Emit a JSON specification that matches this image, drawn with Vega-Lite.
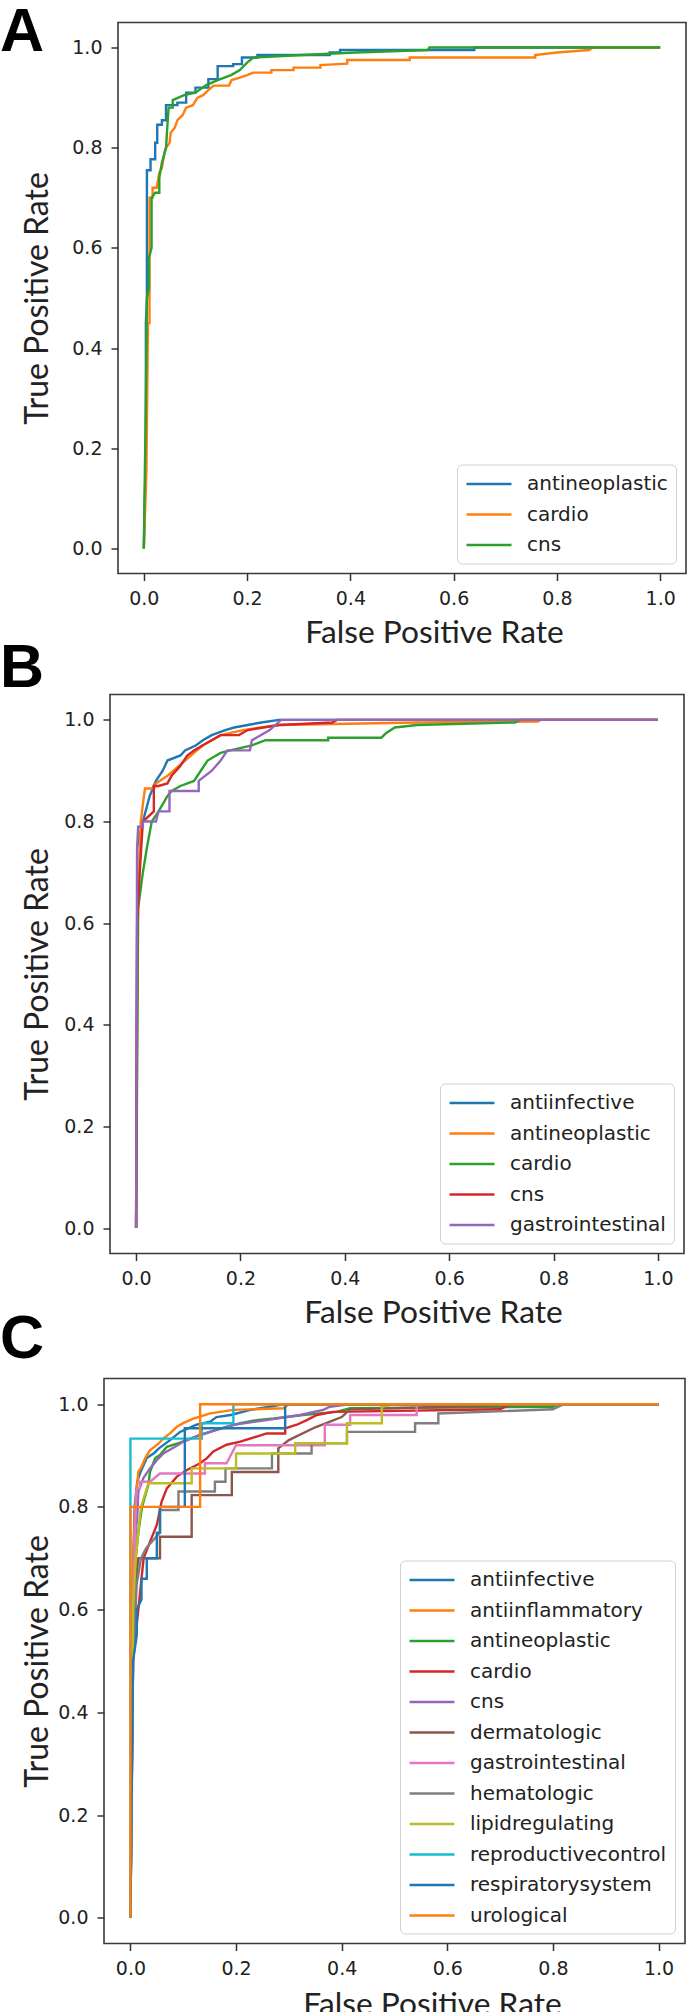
{
"$schema": "https://vega.github.io/schema/vega-lite/v6.json",
"background": "white",
"padding": {"left": 0, "top": 1.5, "right": 0, "bottom": 0},
"spacing": -22,
"resolve": {"scale": {"color": "independent", "x": "independent", "y": "independent"}, "legend": {"color": "independent"}},
"config": {
  "view": {"stroke": "#3a3a3a", "strokeWidth": 1.6},
  "axis": {"grid": false, "domain": false, "tickSize": 7, "tickWidth": 1.5, "tickColor": "#333333", "labelFont": "DejaVu Sans", "labelFontSize": 19, "labelColor": "#222222", "labelPadding": 9, "titleFont": "Lato", "titleFontWeight": "normal", "titleColor": "#222222", "titleFontSize": 31.7},
  "axisY": {"titleFontSize": 32},
  "legend": {"orient": "bottom-right", "offset": 10, "title": null, "symbolType": "M-1,0H3.5", "symbolSize": 400, "symbolStrokeWidth": 2.5, "labelFont": "DejaVu Sans", "labelFontSize": 20, "labelColor": "#222222", "labelLimit": 400, "fillColor": "white", "strokeColor": "#d0d0d0", "cornerRadius": 5, "padding": 8, "rowPadding": 8.5, "labelOffset": 39},
  "title": {"anchor": "start", "frame": "group", "font": "Liberation Sans", "fontSize": 61, "fontWeight": "bold", "color": "#000000", "baseline": "alphabetic"},
  "line": {"strokeWidth": 2.4}
},
"vconcat": [
{
  "title": {"text": "A", "offset": -42},
  "spacing": 0,
  "resolve": {"scale": {"color": "independent", "x": "independent", "y": "independent"}, "legend": {"color": "independent"}},
  "hconcat": [
    {"width": 20, "height": 637, "view": {"stroke": null}, "data": {"values": []}, "mark": "point", "encoding": {}},
    {
      "width": 568, "height": 551,
      "data": {"values": [
{"series":"antineoplastic","fpr":0,"tpr":0},{"series":"antineoplastic","fpr":0.004,"tpr":0.2},{"series":"antineoplastic","fpr":0.004,"tpr":0.45},{"series":"antineoplastic","fpr":0.006,"tpr":0.5},{"series":"antineoplastic","fpr":0.006,"tpr":0.755},{"series":"antineoplastic","fpr":0.013,"tpr":0.755},{"series":"antineoplastic","fpr":0.013,"tpr":0.777},{"series":"antineoplastic","fpr":0.022,"tpr":0.777},{"series":"antineoplastic","fpr":0.022,"tpr":0.81},{"series":"antineoplastic","fpr":0.026,"tpr":0.81},{"series":"antineoplastic","fpr":0.026,"tpr":0.846},{"series":"antineoplastic","fpr":0.035,"tpr":0.846},{"series":"antineoplastic","fpr":0.035,"tpr":0.855},{"series":"antineoplastic","fpr":0.043,"tpr":0.855},{"series":"antineoplastic","fpr":0.043,"tpr":0.885},{"series":"antineoplastic","fpr":0.065,"tpr":0.885},{"series":"antineoplastic","fpr":0.065,"tpr":0.89},{"series":"antineoplastic","fpr":0.082,"tpr":0.89},{"series":"antineoplastic","fpr":0.082,"tpr":0.91},{"series":"antineoplastic","fpr":0.1,"tpr":0.91},{"series":"antineoplastic","fpr":0.1,"tpr":0.92},{"series":"antineoplastic","fpr":0.125,"tpr":0.92},{"series":"antineoplastic","fpr":0.125,"tpr":0.937},{"series":"antineoplastic","fpr":0.143,"tpr":0.937},{"series":"antineoplastic","fpr":0.143,"tpr":0.963},{"series":"antineoplastic","fpr":0.173,"tpr":0.963},{"series":"antineoplastic","fpr":0.173,"tpr":0.967},{"series":"antineoplastic","fpr":0.19,"tpr":0.967},{"series":"antineoplastic","fpr":0.19,"tpr":0.98},{"series":"antineoplastic","fpr":0.22,"tpr":0.98},{"series":"antineoplastic","fpr":0.22,"tpr":0.985},{"series":"antineoplastic","fpr":0.36,"tpr":0.985},{"series":"antineoplastic","fpr":0.36,"tpr":0.99},{"series":"antineoplastic","fpr":0.38,"tpr":0.99},{"series":"antineoplastic","fpr":0.38,"tpr":0.995},{"series":"antineoplastic","fpr":0.64,"tpr":0.995},{"series":"antineoplastic","fpr":0.64,"tpr":1},{"series":"antineoplastic","fpr":1,"tpr":1},
{"series":"cardio","fpr":0,"tpr":0},{"series":"cardio","fpr":0.005,"tpr":0.15},{"series":"cardio","fpr":0.008,"tpr":0.45},{"series":"cardio","fpr":0.011,"tpr":0.45},{"series":"cardio","fpr":0.011,"tpr":0.7},{"series":"cardio","fpr":0.017,"tpr":0.7},{"series":"cardio","fpr":0.017,"tpr":0.72},{"series":"cardio","fpr":0.025,"tpr":0.72},{"series":"cardio","fpr":0.03,"tpr":0.75},{"series":"cardio","fpr":0.035,"tpr":0.76},{"series":"cardio","fpr":0.04,"tpr":0.79},{"series":"cardio","fpr":0.043,"tpr":0.8},{"series":"cardio","fpr":0.05,"tpr":0.81},{"series":"cardio","fpr":0.052,"tpr":0.83},{"series":"cardio","fpr":0.06,"tpr":0.84},{"series":"cardio","fpr":0.065,"tpr":0.855},{"series":"cardio","fpr":0.075,"tpr":0.865},{"series":"cardio","fpr":0.082,"tpr":0.88},{"series":"cardio","fpr":0.095,"tpr":0.885},{"series":"cardio","fpr":0.104,"tpr":0.9},{"series":"cardio","fpr":0.115,"tpr":0.905},{"series":"cardio","fpr":0.125,"tpr":0.915},{"series":"cardio","fpr":0.135,"tpr":0.924},{"series":"cardio","fpr":0.165,"tpr":0.924},{"series":"cardio","fpr":0.17,"tpr":0.935},{"series":"cardio","fpr":0.186,"tpr":0.94},{"series":"cardio","fpr":0.2,"tpr":0.945},{"series":"cardio","fpr":0.212,"tpr":0.95},{"series":"cardio","fpr":0.247,"tpr":0.95},{"series":"cardio","fpr":0.247,"tpr":0.955},{"series":"cardio","fpr":0.29,"tpr":0.955},{"series":"cardio","fpr":0.29,"tpr":0.96},{"series":"cardio","fpr":0.342,"tpr":0.96},{"series":"cardio","fpr":0.342,"tpr":0.965},{"series":"cardio","fpr":0.394,"tpr":0.968},{"series":"cardio","fpr":0.394,"tpr":0.975},{"series":"cardio","fpr":0.515,"tpr":0.975},{"series":"cardio","fpr":0.515,"tpr":0.98},{"series":"cardio","fpr":0.758,"tpr":0.98},{"series":"cardio","fpr":0.758,"tpr":0.985},{"series":"cardio","fpr":0.8,"tpr":0.99},{"series":"cardio","fpr":0.862,"tpr":0.995},{"series":"cardio","fpr":0.87,"tpr":1},{"series":"cardio","fpr":1,"tpr":1},
{"series":"cns","fpr":0,"tpr":0},{"series":"cns","fpr":0.004,"tpr":0.3},{"series":"cns","fpr":0.006,"tpr":0.5},{"series":"cns","fpr":0.01,"tpr":0.52},{"series":"cns","fpr":0.01,"tpr":0.58},{"series":"cns","fpr":0.015,"tpr":0.6},{"series":"cns","fpr":0.015,"tpr":0.7},{"series":"cns","fpr":0.022,"tpr":0.71},{"series":"cns","fpr":0.03,"tpr":0.71},{"series":"cns","fpr":0.03,"tpr":0.74},{"series":"cns","fpr":0.035,"tpr":0.77},{"series":"cns","fpr":0.043,"tpr":0.8},{"series":"cns","fpr":0.046,"tpr":0.85},{"series":"cns","fpr":0.048,"tpr":0.88},{"series":"cns","fpr":0.056,"tpr":0.88},{"series":"cns","fpr":0.056,"tpr":0.895},{"series":"cns","fpr":0.078,"tpr":0.905},{"series":"cns","fpr":0.1,"tpr":0.91},{"series":"cns","fpr":0.121,"tpr":0.925},{"series":"cns","fpr":0.143,"tpr":0.935},{"series":"cns","fpr":0.169,"tpr":0.945},{"series":"cns","fpr":0.186,"tpr":0.955},{"series":"cns","fpr":0.2,"tpr":0.97},{"series":"cns","fpr":0.212,"tpr":0.98},{"series":"cns","fpr":0.307,"tpr":0.985},{"series":"cns","fpr":0.41,"tpr":0.99},{"series":"cns","fpr":0.55,"tpr":0.995},{"series":"cns","fpr":0.553,"tpr":1},{"series":"cns","fpr":1,"tpr":1}
      ]},
      "mark": {"type": "line"},
      "encoding": {
        "x": {"field": "fpr", "type": "quantitative", "scale": {"domain": [-0.05, 1.05], "nice": false, "zero": false}, "axis": {"title": "False Positive Rate", "values": [0, 0.2, 0.4, 0.6, 0.8, 1], "format": ".1f", "labelFlush": false, "titleX": 316, "titlePadding": 9}},
        "y": {"field": "tpr", "type": "quantitative", "scale": {"domain": [-0.05, 1.05], "nice": false, "zero": false}, "axis": {"title": "True Positive Rate", "values": [0, 0.2, 0.4, 0.6, 0.8, 1], "format": ".1f", "labelFlush": false, "titlePadding": 17}},
        "color": {"field": "series", "type": "nominal", "scale": {"domain": ["antineoplastic", "cardio", "cns"], "range": ["#1f77b4", "#ff7f0e", "#2ca02c"]}},
        "order": [{"field": "fpr", "type": "quantitative"}, {"field": "tpr", "type": "quantitative"}]
      }
    }
  ]
},
{
  "title": {"text": "B", "offset": -6},
  "spacing": 0,
  "resolve": {"scale": {"color": "independent", "x": "independent", "y": "independent"}, "legend": {"color": "independent"}},
  "hconcat": [
    {"width": 20, "height": 559, "view": {"stroke": null}, "data": {"values": []}, "mark": "point", "encoding": {}},
    {
      "width": 574, "height": 559,
      "data": {"values": [
{"series":"antiinfective","fpr":0,"tpr":0},{"series":"antiinfective","fpr":0.002,"tpr":0.6},{"series":"antiinfective","fpr":0.002,"tpr":0.75},{"series":"antiinfective","fpr":0.013,"tpr":0.8},{"series":"antiinfective","fpr":0.026,"tpr":0.85},{"series":"antiinfective","fpr":0.038,"tpr":0.88},{"series":"antiinfective","fpr":0.051,"tpr":0.9},{"series":"antiinfective","fpr":0.06,"tpr":0.92},{"series":"antiinfective","fpr":0.085,"tpr":0.93},{"series":"antiinfective","fpr":0.094,"tpr":0.94},{"series":"antiinfective","fpr":0.115,"tpr":0.95},{"series":"antiinfective","fpr":0.128,"tpr":0.96},{"series":"antiinfective","fpr":0.145,"tpr":0.97},{"series":"antiinfective","fpr":0.171,"tpr":0.98},{"series":"antiinfective","fpr":0.188,"tpr":0.985},{"series":"antiinfective","fpr":0.214,"tpr":0.99},{"series":"antiinfective","fpr":0.24,"tpr":0.995},{"series":"antiinfective","fpr":0.274,"tpr":1},{"series":"antiinfective","fpr":1,"tpr":1},
{"series":"antineoplastic","fpr":0,"tpr":0},{"series":"antineoplastic","fpr":0.003,"tpr":0.6},{"series":"antineoplastic","fpr":0.009,"tpr":0.8},{"series":"antineoplastic","fpr":0.015,"tpr":0.85},{"series":"antineoplastic","fpr":0.017,"tpr":0.865},{"series":"antineoplastic","fpr":0.034,"tpr":0.865},{"series":"antineoplastic","fpr":0.038,"tpr":0.875},{"series":"antineoplastic","fpr":0.06,"tpr":0.89},{"series":"antineoplastic","fpr":0.077,"tpr":0.905},{"series":"antineoplastic","fpr":0.094,"tpr":0.92},{"series":"antineoplastic","fpr":0.111,"tpr":0.935},{"series":"antineoplastic","fpr":0.128,"tpr":0.95},{"series":"antineoplastic","fpr":0.145,"tpr":0.96},{"series":"antineoplastic","fpr":0.162,"tpr":0.97},{"series":"antineoplastic","fpr":0.205,"tpr":0.98},{"series":"antineoplastic","fpr":0.274,"tpr":0.99},{"series":"antineoplastic","fpr":0.538,"tpr":0.995},{"series":"antineoplastic","fpr":0.77,"tpr":0.997},{"series":"antineoplastic","fpr":0.775,"tpr":1},{"series":"antineoplastic","fpr":1,"tpr":1},
{"series":"cardio","fpr":0,"tpr":0},{"series":"cardio","fpr":0.004,"tpr":0.63},{"series":"cardio","fpr":0.013,"tpr":0.7},{"series":"cardio","fpr":0.021,"tpr":0.75},{"series":"cardio","fpr":0.03,"tpr":0.8},{"series":"cardio","fpr":0.043,"tpr":0.82},{"series":"cardio","fpr":0.06,"tpr":0.85},{"series":"cardio","fpr":0.068,"tpr":0.86},{"series":"cardio","fpr":0.085,"tpr":0.87},{"series":"cardio","fpr":0.111,"tpr":0.88},{"series":"cardio","fpr":0.124,"tpr":0.9},{"series":"cardio","fpr":0.137,"tpr":0.92},{"series":"cardio","fpr":0.162,"tpr":0.935},{"series":"cardio","fpr":0.18,"tpr":0.94},{"series":"cardio","fpr":0.222,"tpr":0.95},{"series":"cardio","fpr":0.248,"tpr":0.96},{"series":"cardio","fpr":0.368,"tpr":0.96},{"series":"cardio","fpr":0.368,"tpr":0.965},{"series":"cardio","fpr":0.47,"tpr":0.965},{"series":"cardio","fpr":0.48,"tpr":0.975},{"series":"cardio","fpr":0.496,"tpr":0.985},{"series":"cardio","fpr":0.538,"tpr":0.99},{"series":"cardio","fpr":0.726,"tpr":0.995},{"series":"cardio","fpr":0.735,"tpr":1},{"series":"cardio","fpr":1,"tpr":1},
{"series":"cns","fpr":0,"tpr":0},{"series":"cns","fpr":0.002,"tpr":0.6},{"series":"cns","fpr":0.007,"tpr":0.7},{"series":"cns","fpr":0.013,"tpr":0.8},{"series":"cns","fpr":0.034,"tpr":0.82},{"series":"cns","fpr":0.034,"tpr":0.87},{"series":"cns","fpr":0.043,"tpr":0.87},{"series":"cns","fpr":0.06,"tpr":0.875},{"series":"cns","fpr":0.068,"tpr":0.89},{"series":"cns","fpr":0.085,"tpr":0.91},{"series":"cns","fpr":0.098,"tpr":0.93},{"series":"cns","fpr":0.111,"tpr":0.94},{"series":"cns","fpr":0.128,"tpr":0.95},{"series":"cns","fpr":0.145,"tpr":0.96},{"series":"cns","fpr":0.162,"tpr":0.97},{"series":"cns","fpr":0.197,"tpr":0.97},{"series":"cns","fpr":0.214,"tpr":0.98},{"series":"cns","fpr":0.274,"tpr":0.99},{"series":"cns","fpr":0.376,"tpr":0.995},{"series":"cns","fpr":0.385,"tpr":1},{"series":"cns","fpr":1,"tpr":1},
{"series":"gastrointestinal","fpr":0,"tpr":0},{"series":"gastrointestinal","fpr":0.002,"tpr":0.75},{"series":"gastrointestinal","fpr":0.004,"tpr":0.79},{"series":"gastrointestinal","fpr":0.013,"tpr":0.79},{"series":"gastrointestinal","fpr":0.013,"tpr":0.8},{"series":"gastrointestinal","fpr":0.038,"tpr":0.8},{"series":"gastrointestinal","fpr":0.043,"tpr":0.82},{"series":"gastrointestinal","fpr":0.064,"tpr":0.82},{"series":"gastrointestinal","fpr":0.064,"tpr":0.86},{"series":"gastrointestinal","fpr":0.12,"tpr":0.86},{"series":"gastrointestinal","fpr":0.12,"tpr":0.88},{"series":"gastrointestinal","fpr":0.145,"tpr":0.9},{"series":"gastrointestinal","fpr":0.162,"tpr":0.92},{"series":"gastrointestinal","fpr":0.175,"tpr":0.94},{"series":"gastrointestinal","fpr":0.218,"tpr":0.94},{"series":"gastrointestinal","fpr":0.222,"tpr":0.96},{"series":"gastrointestinal","fpr":0.256,"tpr":0.98},{"series":"gastrointestinal","fpr":0.278,"tpr":1},{"series":"gastrointestinal","fpr":1,"tpr":1}
      ]},
      "mark": {"type": "line"},
      "encoding": {
        "x": {"field": "fpr", "type": "quantitative", "scale": {"domain": [-0.05, 1.05], "nice": false, "zero": false}, "axis": {"title": "False Positive Rate", "values": [0, 0.2, 0.4, 0.6, 0.8, 1], "format": ".1f", "labelFlush": false, "titleX": 323, "titlePadding": 9}},
        "y": {"field": "tpr", "type": "quantitative", "scale": {"domain": [-0.05, 1.05], "nice": false, "zero": false}, "axis": {"title": "True Positive Rate", "values": [0, 0.2, 0.4, 0.6, 0.8, 1], "format": ".1f", "labelFlush": false, "titlePadding": 9}},
        "color": {"field": "series", "type": "nominal", "scale": {"domain": ["antiinfective", "antineoplastic", "cardio", "cns", "gastrointestinal"], "range": ["#1f77b4", "#ff7f0e", "#2ca02c", "#d62728", "#9467bd"]}},
        "order": [{"field": "fpr", "type": "quantitative"}, {"field": "tpr", "type": "quantitative"}]
      }
    }
  ]
},
{
  "title": {"text": "C", "offset": 7},
  "spacing": 0,
  "resolve": {"scale": {"color": "independent", "x": "independent", "y": "independent"}, "legend": {"color": "independent"}},
  "hconcat": [
    {"width": 20, "height": 565, "view": {"stroke": null}, "data": {"values": []}, "mark": "point", "encoding": {}},
    {
      "width": 581, "height": 565,
      "data": {"values": [
{"series":"antiinfective","fpr":0,"tpr":0},{"series":"antiinfective","fpr":0.003,"tpr":0.6},{"series":"antiinfective","fpr":0.008,"tpr":0.8},{"series":"antiinfective","fpr":0.013,"tpr":0.85},{"series":"antiinfective","fpr":0.02,"tpr":0.87},{"series":"antiinfective","fpr":0.031,"tpr":0.895},{"series":"antiinfective","fpr":0.045,"tpr":0.905},{"series":"antiinfective","fpr":0.054,"tpr":0.914},{"series":"antiinfective","fpr":0.075,"tpr":0.93},{"series":"antiinfective","fpr":0.094,"tpr":0.946},{"series":"antiinfective","fpr":0.125,"tpr":0.96},{"series":"antiinfective","fpr":0.151,"tpr":0.966},{"series":"antiinfective","fpr":0.163,"tpr":0.975},{"series":"antiinfective","fpr":0.19,"tpr":0.979},{"series":"antiinfective","fpr":0.227,"tpr":0.989},{"series":"antiinfective","fpr":0.264,"tpr":0.995},{"series":"antiinfective","fpr":0.29,"tpr":1},{"series":"antiinfective","fpr":1,"tpr":1},
{"series":"antiinflammatory","fpr":0,"tpr":0},{"series":"antiinflammatory","fpr":0.002,"tpr":0.6},{"series":"antiinflammatory","fpr":0.009,"tpr":0.8},{"series":"antiinflammatory","fpr":0.015,"tpr":0.868},{"series":"antiinflammatory","fpr":0.021,"tpr":0.878},{"series":"antiinflammatory","fpr":0.028,"tpr":0.895},{"series":"antiinflammatory","fpr":0.037,"tpr":0.91},{"series":"antiinflammatory","fpr":0.053,"tpr":0.923},{"series":"antiinflammatory","fpr":0.062,"tpr":0.933},{"series":"antiinflammatory","fpr":0.075,"tpr":0.943},{"series":"antiinflammatory","fpr":0.088,"tpr":0.956},{"series":"antiinflammatory","fpr":0.1,"tpr":0.963},{"series":"antiinflammatory","fpr":0.119,"tpr":0.972},{"series":"antiinflammatory","fpr":0.151,"tpr":0.982},{"series":"antiinflammatory","fpr":0.195,"tpr":0.989},{"series":"antiinflammatory","fpr":0.29,"tpr":0.992},{"series":"antiinflammatory","fpr":0.3,"tpr":1},{"series":"antiinflammatory","fpr":1,"tpr":1},
{"series":"antineoplastic","fpr":0,"tpr":0},{"series":"antineoplastic","fpr":0.004,"tpr":0.5},{"series":"antineoplastic","fpr":0.01,"tpr":0.7},{"series":"antineoplastic","fpr":0.015,"tpr":0.75},{"series":"antineoplastic","fpr":0.022,"tpr":0.8},{"series":"antineoplastic","fpr":0.034,"tpr":0.843},{"series":"antineoplastic","fpr":0.037,"tpr":0.868},{"series":"antineoplastic","fpr":0.047,"tpr":0.895},{"series":"antineoplastic","fpr":0.056,"tpr":0.901},{"series":"antineoplastic","fpr":0.069,"tpr":0.917},{"series":"antineoplastic","fpr":0.091,"tpr":0.924},{"series":"antineoplastic","fpr":0.107,"tpr":0.93},{"series":"antineoplastic","fpr":0.132,"tpr":0.94},{"series":"antineoplastic","fpr":0.163,"tpr":0.95},{"series":"antineoplastic","fpr":0.208,"tpr":0.963},{"series":"antineoplastic","fpr":0.239,"tpr":0.969},{"series":"antineoplastic","fpr":0.271,"tpr":0.972},{"series":"antineoplastic","fpr":0.327,"tpr":0.979},{"series":"antineoplastic","fpr":0.39,"tpr":0.985},{"series":"antineoplastic","fpr":0.416,"tpr":0.992},{"series":"antineoplastic","fpr":0.8,"tpr":0.995},{"series":"antineoplastic","fpr":0.81,"tpr":1},{"series":"antineoplastic","fpr":1,"tpr":1},
{"series":"cardio","fpr":0,"tpr":0},{"series":"cardio","fpr":0.005,"tpr":0.5},{"series":"cardio","fpr":0.015,"tpr":0.6},{"series":"cardio","fpr":0.02,"tpr":0.65},{"series":"cardio","fpr":0.025,"tpr":0.7},{"series":"cardio","fpr":0.037,"tpr":0.732},{"series":"cardio","fpr":0.05,"tpr":0.765},{"series":"cardio","fpr":0.059,"tpr":0.81},{"series":"cardio","fpr":0.069,"tpr":0.836},{"series":"cardio","fpr":0.088,"tpr":0.859},{"series":"cardio","fpr":0.107,"tpr":0.872},{"series":"cardio","fpr":0.132,"tpr":0.885},{"series":"cardio","fpr":0.145,"tpr":0.895},{"series":"cardio","fpr":0.157,"tpr":0.908},{"series":"cardio","fpr":0.182,"tpr":0.921},{"series":"cardio","fpr":0.208,"tpr":0.927},{"series":"cardio","fpr":0.239,"tpr":0.937},{"series":"cardio","fpr":0.258,"tpr":0.943},{"series":"cardio","fpr":0.293,"tpr":0.943},{"series":"cardio","fpr":0.293,"tpr":0.953},{"series":"cardio","fpr":0.315,"tpr":0.96},{"series":"cardio","fpr":0.334,"tpr":0.969},{"series":"cardio","fpr":0.353,"tpr":0.979},{"series":"cardio","fpr":0.384,"tpr":0.985},{"series":"cardio","fpr":0.7,"tpr":0.99},{"series":"cardio","fpr":0.72,"tpr":1},{"series":"cardio","fpr":1,"tpr":1},
{"series":"cns","fpr":0,"tpr":0},{"series":"cns","fpr":0.004,"tpr":0.5},{"series":"cns","fpr":0.01,"tpr":0.75},{"series":"cns","fpr":0.013,"tpr":0.78},{"series":"cns","fpr":0.015,"tpr":0.83},{"series":"cns","fpr":0.0245,"tpr":0.856},{"series":"cns","fpr":0.037,"tpr":0.875},{"series":"cns","fpr":0.05,"tpr":0.891},{"series":"cns","fpr":0.0625,"tpr":0.904},{"series":"cns","fpr":0.0845,"tpr":0.917},{"series":"cns","fpr":0.1,"tpr":0.927},{"series":"cns","fpr":0.132,"tpr":0.94},{"series":"cns","fpr":0.163,"tpr":0.95},{"series":"cns","fpr":0.195,"tpr":0.96},{"series":"cns","fpr":0.258,"tpr":0.969},{"series":"cns","fpr":0.321,"tpr":0.979},{"series":"cns","fpr":0.365,"tpr":0.989},{"series":"cns","fpr":0.378,"tpr":0.995},{"series":"cns","fpr":0.416,"tpr":1},{"series":"cns","fpr":1,"tpr":1},
{"series":"dermatologic","fpr":0,"tpr":0},{"series":"dermatologic","fpr":0.005,"tpr":0.5},{"series":"dermatologic","fpr":0.01,"tpr":0.65},{"series":"dermatologic","fpr":0.015,"tpr":0.7},{"series":"dermatologic","fpr":0.056,"tpr":0.7},{"series":"dermatologic","fpr":0.056,"tpr":0.742},{"series":"dermatologic","fpr":0.116,"tpr":0.742},{"series":"dermatologic","fpr":0.116,"tpr":0.823},{"series":"dermatologic","fpr":0.192,"tpr":0.823},{"series":"dermatologic","fpr":0.192,"tpr":0.868},{"series":"dermatologic","fpr":0.28,"tpr":0.868},{"series":"dermatologic","fpr":0.28,"tpr":0.914},{"series":"dermatologic","fpr":0.3,"tpr":0.93},{"series":"dermatologic","fpr":0.35,"tpr":0.955},{"series":"dermatologic","fpr":0.4,"tpr":0.975},{"series":"dermatologic","fpr":0.416,"tpr":0.99},{"series":"dermatologic","fpr":0.6,"tpr":0.995},{"series":"dermatologic","fpr":0.8,"tpr":1},{"series":"dermatologic","fpr":1,"tpr":1},
{"series":"gastrointestinal","fpr":0,"tpr":0},{"series":"gastrointestinal","fpr":0.005,"tpr":0.6},{"series":"gastrointestinal","fpr":0.01,"tpr":0.8},{"series":"gastrointestinal","fpr":0.012,"tpr":0.836},{"series":"gastrointestinal","fpr":0.018,"tpr":0.836},{"series":"gastrointestinal","fpr":0.018,"tpr":0.849},{"series":"gastrointestinal","fpr":0.037,"tpr":0.849},{"series":"gastrointestinal","fpr":0.056,"tpr":0.865},{"series":"gastrointestinal","fpr":0.141,"tpr":0.865},{"series":"gastrointestinal","fpr":0.141,"tpr":0.885},{"series":"gastrointestinal","fpr":0.182,"tpr":0.885},{"series":"gastrointestinal","fpr":0.2,"tpr":0.92},{"series":"gastrointestinal","fpr":0.368,"tpr":0.92},{"series":"gastrointestinal","fpr":0.368,"tpr":0.96},{"series":"gastrointestinal","fpr":0.416,"tpr":0.96},{"series":"gastrointestinal","fpr":0.416,"tpr":0.979},{"series":"gastrointestinal","fpr":0.542,"tpr":0.979},{"series":"gastrointestinal","fpr":0.542,"tpr":1},{"series":"gastrointestinal","fpr":1,"tpr":1},
{"series":"hematologic","fpr":0,"tpr":0},{"series":"hematologic","fpr":0.005,"tpr":0.5},{"series":"hematologic","fpr":0.012,"tpr":0.65},{"series":"hematologic","fpr":0.02,"tpr":0.7},{"series":"hematologic","fpr":0.03,"tpr":0.72},{"series":"hematologic","fpr":0.056,"tpr":0.75},{"series":"hematologic","fpr":0.056,"tpr":0.794},{"series":"hematologic","fpr":0.091,"tpr":0.794},{"series":"hematologic","fpr":0.091,"tpr":0.83},{"series":"hematologic","fpr":0.16,"tpr":0.83},{"series":"hematologic","fpr":0.16,"tpr":0.849},{"series":"hematologic","fpr":0.18,"tpr":0.849},{"series":"hematologic","fpr":0.18,"tpr":0.875},{"series":"hematologic","fpr":0.268,"tpr":0.875},{"series":"hematologic","fpr":0.268,"tpr":0.904},{"series":"hematologic","fpr":0.343,"tpr":0.904},{"series":"hematologic","fpr":0.343,"tpr":0.924},{"series":"hematologic","fpr":0.41,"tpr":0.924},{"series":"hematologic","fpr":0.41,"tpr":0.946},{"series":"hematologic","fpr":0.539,"tpr":0.946},{"series":"hematologic","fpr":0.539,"tpr":0.963},{"series":"hematologic","fpr":0.583,"tpr":0.963},{"series":"hematologic","fpr":0.583,"tpr":0.982},{"series":"hematologic","fpr":0.8,"tpr":0.99},{"series":"hematologic","fpr":0.82,"tpr":1},{"series":"hematologic","fpr":1,"tpr":1},
{"series":"lipidregulating","fpr":0,"tpr":0},{"series":"lipidregulating","fpr":0.005,"tpr":0.6},{"series":"lipidregulating","fpr":0.01,"tpr":0.7},{"series":"lipidregulating","fpr":0.015,"tpr":0.752},{"series":"lipidregulating","fpr":0.02,"tpr":0.8},{"series":"lipidregulating","fpr":0.034,"tpr":0.846},{"series":"lipidregulating","fpr":0.116,"tpr":0.846},{"series":"lipidregulating","fpr":0.116,"tpr":0.875},{"series":"lipidregulating","fpr":0.2,"tpr":0.875},{"series":"lipidregulating","fpr":0.2,"tpr":0.904},{"series":"lipidregulating","fpr":0.312,"tpr":0.904},{"series":"lipidregulating","fpr":0.312,"tpr":0.924},{"series":"lipidregulating","fpr":0.41,"tpr":0.924},{"series":"lipidregulating","fpr":0.41,"tpr":0.963},{"series":"lipidregulating","fpr":0.476,"tpr":0.963},{"series":"lipidregulating","fpr":0.476,"tpr":0.995},{"series":"lipidregulating","fpr":0.5,"tpr":1},{"series":"lipidregulating","fpr":1,"tpr":1},
{"series":"reproductivecontrol","fpr":0,"tpr":0},{"series":"reproductivecontrol","fpr":0,"tpr":0.933},{"series":"reproductivecontrol","fpr":0.135,"tpr":0.933},{"series":"reproductivecontrol","fpr":0.135,"tpr":0.963},{"series":"reproductivecontrol","fpr":0.195,"tpr":0.963},{"series":"reproductivecontrol","fpr":0.195,"tpr":1},{"series":"reproductivecontrol","fpr":1,"tpr":1},
{"series":"respiratorysystem","fpr":0,"tpr":0},{"series":"respiratorysystem","fpr":0.005,"tpr":0.5},{"series":"respiratorysystem","fpr":0.012,"tpr":0.55},{"series":"respiratorysystem","fpr":0.012,"tpr":0.6},{"series":"respiratorysystem","fpr":0.021,"tpr":0.62},{"series":"respiratorysystem","fpr":0.021,"tpr":0.66},{"series":"respiratorysystem","fpr":0.031,"tpr":0.66},{"series":"respiratorysystem","fpr":0.031,"tpr":0.7},{"series":"respiratorysystem","fpr":0.05,"tpr":0.7},{"series":"respiratorysystem","fpr":0.05,"tpr":0.75},{"series":"respiratorysystem","fpr":0.056,"tpr":0.75},{"series":"respiratorysystem","fpr":0.056,"tpr":0.8},{"series":"respiratorysystem","fpr":0.103,"tpr":0.8},{"series":"respiratorysystem","fpr":0.103,"tpr":0.953},{"series":"respiratorysystem","fpr":0.293,"tpr":0.953},{"series":"respiratorysystem","fpr":0.293,"tpr":1},{"series":"respiratorysystem","fpr":1,"tpr":1},
{"series":"urological","fpr":0,"tpr":0},{"series":"urological","fpr":0,"tpr":0.8},{"series":"urological","fpr":0.132,"tpr":0.8},{"series":"urological","fpr":0.132,"tpr":1},{"series":"urological","fpr":1,"tpr":1}
      ]},
      "mark": {"type": "line"},
      "encoding": {
        "x": {"field": "fpr", "type": "quantitative", "scale": {"domain": [-0.05, 1.05], "nice": false, "zero": false}, "axis": {"title": "False Positive Rate", "values": [0, 0.2, 0.4, 0.6, 0.8, 1], "format": ".1f", "labelFlush": false, "titleX": 328, "titlePadding": 11}},
        "y": {"field": "tpr", "type": "quantitative", "scale": {"domain": [-0.05, 1.05], "nice": false, "zero": false}, "axis": {"title": "True Positive Rate", "values": [0, 0.2, 0.4, 0.6, 0.8, 1], "format": ".1f", "labelFlush": false, "titlePadding": 3}},
        "color": {"field": "series", "type": "nominal", "scale": {"domain": ["antiinfective", "antiinflammatory", "antineoplastic", "cardio", "cns", "dermatologic", "gastrointestinal", "hematologic", "lipidregulating", "reproductivecontrol", "respiratorysystem", "urological"], "range": ["#1f77b4", "#ff7f0e", "#2ca02c", "#d62728", "#9467bd", "#8c564b", "#e377c2", "#7f7f7f", "#bcbd22", "#17becf", "#1f77b4", "#ff7f0e"]}},
        "order": [{"field": "fpr", "type": "quantitative"}, {"field": "tpr", "type": "quantitative"}]
      }
    }
  ]
}
]
}
